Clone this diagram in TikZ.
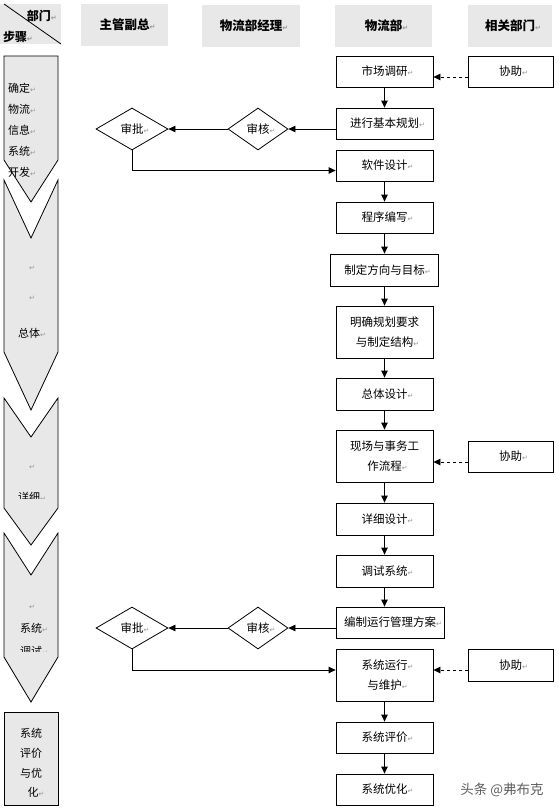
\documentclass[tikz,border=0pt]{standalone}
\usepackage{fontspec}
\setmainfont{Noto Sans CJK SC}
\newfontfamily\dejavu{DejaVu Sans}
\usetikzlibrary{arrows.meta,shapes.geometric,calc}
\definecolor{hdrgray}{RGB}{232,232,232}
\definecolor{markgray}{RGB}{150,150,150}
\definecolor{wmgray}{RGB}{95,95,95}
\newcommand\rtm{\rlap{\color{markgray}\dejavu\fontsize{7}{7}\selectfont ↵}}
\begin{document}
\begin{tikzpicture}[x=1pt,y=-1pt,
 box/.style={draw, line width=0.8pt, fill=white, minimum width=97pt, minimum height=31pt, inner sep=0pt, align=center, font=\fontsize{11.5}{20}\selectfont},
 hdr/.style={fill=hdrgray, minimum height=42pt, inner sep=0pt, font=\bfseries\fontsize{12.5}{14}\selectfont},
 dia/.style={draw, diamond, line width=0.8pt, fill=white, inner sep=0pt, minimum height=42pt, font=\fontsize{11.5}{14}\selectfont},
 arr/.style={line width=0.8pt, -{Triangle[length=7pt,width=6.5pt]}},
 darr/.style={arr, dash pattern=on 3pt off 3pt},
 chev/.style={fill=hdrgray, draw, line width=0.8pt, line join=miter},
 ctext/.style={inner sep=0pt, align=center, font=\fontsize{11}{13}\selectfont}
]
\fill[white] (0,0) rectangle (558,809);
\useasboundingbox (0,0) rectangle (558,809);

% header
\fill[hdrgray] (0,4) rectangle (61,44);
\draw[line width=0.8pt] (4,4) -- (61,44);
\node[inner sep=0pt, font=\bfseries\fontsize{12}{14}\selectfont] (hbm) at (39,16) {部门\rtm};
\node[inner sep=0pt, font=\bfseries\fontsize{12}{14}\selectfont] (hbz) at (15,37) {步骤\rtm};
\node[hdr, minimum width=87pt] (h1) at (124.5,25) {主管副总\rtm};
\node[hdr, minimum width=98pt] (h2) at (251,25.5) {物流部经理\rtm};
\node[hdr, minimum width=97pt] (h3) at (383.5,25.5) {物流部\rtm};
\node[hdr, minimum width=84pt] (h4) at (510,25.5) {相关部门\rtm};

% chevrons
\draw[chev] (4,56) -- (58,56) -- (58,160) -- (31,202) -- (4,160) -- cycle;
\draw[chev] (4,180) -- (31,238) -- (58,180) -- (58,352) -- (31,410) -- (4,352) -- cycle;
\draw[chev] (4,398) -- (31,437) -- (58,398) -- (58,508) -- (31,545) -- (4,508) -- cycle;
\draw[chev] (4,533) -- (31,575) -- (58,533) -- (58,657) -- (31,702) -- (4,657) -- cycle;
\draw[chev] (4,712) rectangle (58,805);

\node[ctext, anchor=west] (c1a) at (8,88) {确定\rtm};
\node[ctext, anchor=west] (c1b) at (8,109) {物流\rtm};
\node[ctext, anchor=west] (c1c) at (8,130) {信息\rtm};
\node[ctext, anchor=west] (c1d) at (8,151) {系统\rtm};
\node[ctext, anchor=west] (c1e) at (8,172) {开发\rtm};
\node[ctext] (c2a) at (29,268) {\rtm};
\node[ctext] (c2b) at (29,298) {\rtm};
\node[ctext] (c2c) at (29,333) {总体\rtm};
\node[ctext] (c3a) at (29,467) {\rtm};
\begin{scope}
\clip (0,440) rectangle (62,498);
\node[ctext] (c3b) at (29,497) {详细\rtm};
\end{scope}
\node[ctext] (c4a) at (29,607) {\rtm};
\node[ctext] (c4b) at (31,628) {系统\rtm};
\begin{scope}
\clip (0,640) rectangle (62,651.5);
\node[ctext] (c4c) at (31,651) {调试\rtm};
\end{scope}
\node[ctext] (c5a) at (31,733) {系统};
\node[ctext] (c5b) at (31,753) {评价};
\node[ctext] (c5c) at (31,773) {与优};
\node[ctext] (c5d) at (33,792) {化\rtm};

% flow boxes
\node[box] (b1) at (384.5,71.5) {市场调研\rtm};
\node[box] (b2) at (384.5,123.5) {进行基本规划\rtm};
\node[box] (b3) at (384.5,165.5) {软件设计\rtm};
\node[box] (b4) at (384.5,217.5) {程序编写\rtm};
\node[box, minimum width=108pt, minimum height=32pt] (b5) at (384.5,270) {制定方向与目标\rtm};
\node[box, minimum height=52pt] (b6) at (384.5,332) {明确规划要求\\与制定结构\rtm};
\node[box, minimum height=32pt] (b7) at (384.5,394) {总体设计\rtm};
\node[box, minimum height=52pt] (b8) at (384.5,456) {现场与事务工\\作流程\rtm};
\node[box, minimum height=32pt] (b9) at (384.5,519) {详细设计\rtm};
\node[box, minimum height=32pt] (b10) at (384.5,571) {调试系统\rtm};
\node[box, minimum width=108pt] (b11) at (390,622.5) {编制运行管理方案\rtm};
\node[box, minimum height=52pt] (b12) at (384.5,675) {系统运行\rtm\\与维护\rtm};
\node[box] (b13) at (384.5,737.5) {系统评价\rtm};
\node[box] (b14) at (384.5,789.5) {系统优化\rtm};

% assist boxes
\node[box, minimum width=85pt] (x1) at (510.5,71.5) {协助\rtm};
\node[box, minimum width=85pt] (x2) at (510.5,456.5) {协助\rtm};
\node[box, minimum width=85pt, minimum height=32pt] (x3) at (510.5,665) {协助\rtm};

% diamonds
\node[dia, minimum width=60pt] (sh1) at (258,129) {审核\rtm};
\node[dia, minimum width=72pt] (sp1) at (132,129) {审批\rtm};
\node[dia, minimum width=60pt] (sh2) at (258,628) {审核\rtm};
\node[dia, minimum width=72pt] (sp2) at (132,628) {审批\rtm};

% vertical arrows
\foreach \a/\b in {b1/b2,b3/b4,b4/b5,b5/b6,b6/b7,b7/b8,b8/b9,b9/b10,b12/b13,b13/b14}
  \draw[arr] (\a.south) -- (\b.north);
\draw[arr] (b10.south) -- (b10.south |- b11.north);

% review loops
\coordinate (k1) at ($(b2.west)+(0,5.5)$);
\draw[arr] (k1) -- (sh1.east);
\draw[arr] (sh1.west) -- (sp1.east);
\coordinate (k2) at ($(b3.west)+(0,5)$);
\draw[arr] (sp1.south) |- (k2);
\coordinate (k3) at ($(b11.west)+(0,5.5)$);
\draw[arr] (k3) -- (sh2.east);
\draw[arr] (sh2.west) -- (sp2.east);
\coordinate (k4) at ($(b12.west)+(0,-5)$);
\draw[arr] (sp2.south) |- (k4);

% dashed assist arrows
\coordinate (d1) at ($(x1.west)+(0,5.5)$);
\draw[darr] (d1) -- (d1 -| b1.east);
\coordinate (d2) at ($(x2.west)+(0,5.5)$);
\draw[darr] (d2) -- (d2 -| b8.east);
\coordinate (d3) at ($(x3.west)+(0,5)$);
\draw[darr] (d3) -- (d3 -| b12.east);

% watermark
\node[inner sep=0pt, text=wmgray, font=\fontsize{13.5}{15}\selectfont] (wm) at (502,790) {头条 @弗布克};
\end{tikzpicture}
\end{document}
